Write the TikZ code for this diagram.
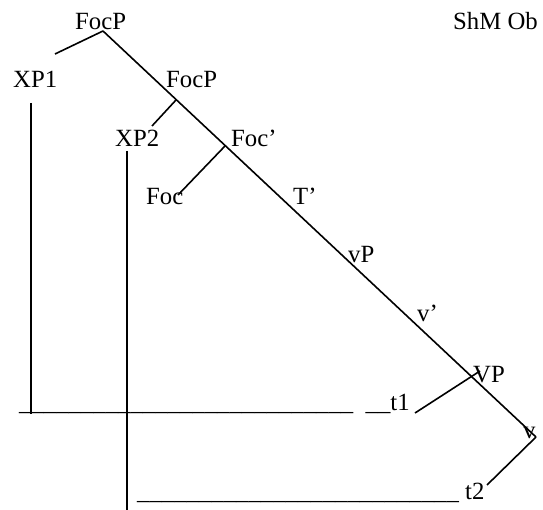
\documentclass[tikz,border=0pt]{standalone}
\usepackage{fontspec}
\setmainfont{Liberation Serif}
\begin{document}
\begin{tikzpicture}[x=1pt,y=-1pt,
  lbl/.style={inner sep=0pt, anchor=base west, font=\fontsize{24.75pt}{29pt}\selectfont},
  edge/.style={line width=1.6pt}]
\useasboundingbox (0,0) rectangle (543,510);
% labels
\node[lbl] (focp1) at (75,30) {FocP};
\node[lbl] (shm) at (453,30) {ShM Ob};
\node[lbl] (xp1) at (13,88) {XP1};
\node[lbl] (focp2) at (166,88) {FocP};
\node[lbl] (xp2) at (115,147) {XP2};
\node[lbl] (focbar) at (231,147) {Foc’};
\node[lbl] (foc) at (146,205) {Foc};
\node[lbl] (tbar) at (293,205) {T’};
\node[lbl] (vp) at (348,263) {vP};
\node[lbl] (vbar) at (417,322) {v’};
\node[lbl] (VP) at (473,382) {VP};
\node[lbl] (line1) at (19,410) {\_\_\_\_\_\_\_\_\_\_\_\_\_\_\_\_\_\_\_\_\_\_\_\_\_\_\_\ \ \_\_t1};
\node[lbl] (v) at (523,438) {v};
\node[lbl] (line2) at (137,499) {\_\_\_\_\_\_\_\_\_\_\_\_\_\_\_\_\_\_\_\_\_\_\_\_\_\_\ t2};
% branch coordinates
\coordinate (top) at (103,31);
\coordinate (xp1end) at (55,54);
\coordinate (vend) at (536,437);
\coordinate (b2) at (176,100);
\coordinate (xp2end) at (152,126);
\coordinate (b3) at (225,146);
\coordinate (focend) at (178,195);
\coordinate (vpend) at (480,371);
\coordinate (t1end) at (415,413);
\coordinate (t2end) at (487,485);
\coordinate (xp1a) at (31,103);
\coordinate (xp1b) at (31,414);
\coordinate (xp2a) at (127,151);
\coordinate (xp2b) at (127,510);
% connectors
\draw[edge] (top) -- (xp1end);
\draw[edge] (top) -- (vend);
\draw[edge] (b2) -- (xp2end);
\draw[edge] (b3) -- (focend);
\draw[edge] (vpend) -- (t1end);
\draw[edge] (vend) -- (t2end);
\draw[edge] (xp1a) -- (xp1b);
\draw[edge] (xp2a) -- (xp2b);
\end{tikzpicture}
\end{document}
